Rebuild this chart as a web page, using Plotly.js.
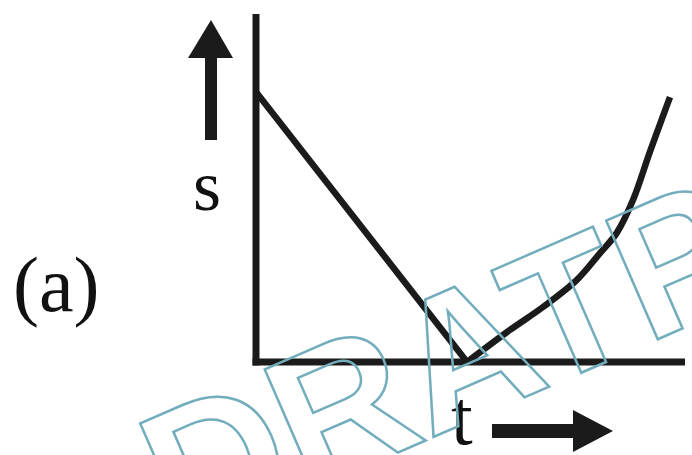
<!DOCTYPE html>
<html>
<head>
<meta charset="utf-8">
<script src="https://cdn.plot.ly/plotly-3.0.1.min.js"></script>
<style>
  html, body { margin: 0; padding: 0; background: #ffffff; }
  #chart { width: 692px; height: 455px; }
</style>
</head>
<body>
<div id="chart"></div>
<script>
// Displacement-time sketch: uniform approach to the origin, then accelerating away.
const tLine = [0, 4.92];
const sLine = [7.76, 0];

const tCurve = [4.92, 5.92, 6.69, 7.48, 8.02, 8.41, 8.79, 9.18, 9.65];
const sCurve = [0, 0.92, 1.58, 2.36, 3.13, 3.71, 4.66, 6.03, 7.61];

const panelLabel = '(a)';
const yLabel = 's';
const xLabel = 't';
const stampText = 'DRATP';

const W = 692, H = 455;
const M = { l: 256, r: 7, t: 14, b: 93 };
const plotW = W - M.l - M.r, plotH = H - M.t - M.b;

// pixel -> paper coordinate helpers for decorations
const px = x => (x - M.l) / plotW;
const py = y => (H - M.b - y) / plotH;

const ink = '#1b1b1b';
const stampColor = '#72adbd';

function poly(points) {
  return 'M' + points.map(p => px(p[0]).toFixed(5) + ',' + py(p[1]).toFixed(5)).join(' L') + ' Z';
}

const shapes = [
  // s axis
  { type: 'line', xref: 'paper', yref: 'paper', x0: px(256), x1: px(256), y0: py(14), y1: py(365.5),
    line: { color: ink, width: 7 } },
  // t axis
  { type: 'line', xref: 'paper', yref: 'paper', x0: px(252.5), x1: px(685), y0: py(362), y1: py(362),
    line: { color: ink, width: 7 } },
  // upward arrow beside the s axis
  { type: 'path', xref: 'paper', yref: 'paper', fillcolor: ink, line: { width: 0 },
    path: poly([[205, 140], [217, 140], [217, 58], [233, 58], [211, 20], [188, 58], [205, 58]]) },
  // rightward arrow beside t
  { type: 'path', xref: 'paper', yref: 'paper', fillcolor: ink, line: { width: 0 },
    path: poly([[492, 424], [573, 424], [573, 410], [613, 431], [573, 452], [573, 438], [492, 438]]) }
];

const serif = { family: 'Liberation Serif, Times New Roman, serif', color: '#111111' };

const annotations = [
  { xref: 'paper', yref: 'paper', x: px(56), y: py(284), text: panelLabel, showarrow: false,
    xanchor: 'center', yanchor: 'middle', font: Object.assign({ size: 78 }, serif) },
  { xref: 'paper', yref: 'paper', x: px(207), y: py(186), text: yLabel, showarrow: false,
    xanchor: 'center', yanchor: 'middle', font: Object.assign({ size: 72 }, serif) },
  { xref: 'paper', yref: 'paper', x: px(462), y: py(417), text: xLabel, showarrow: false,
    xanchor: 'center', yanchor: 'middle', font: Object.assign({ size: 78 }, serif) },
  { xref: 'paper', yref: 'paper', x: px(445), y: py(361), text: stampText, showarrow: false,
    xanchor: 'center', yanchor: 'middle', textangle: -23.5,
    font: { family: 'Liberation Sans, Arial, sans-serif', size: 188, weight: 700, color: stampColor } }
];

const traces = [
  { x: tLine, y: sLine, type: 'scatter', mode: 'lines', cliponaxis: false,
    line: { color: ink, width: 6.5 }, hoverinfo: 'skip' },
  { x: tCurve, y: sCurve, type: 'scatter', mode: 'lines', cliponaxis: false,
    line: { color: ink, width: 6.5, shape: 'spline', smoothing: 1 }, hoverinfo: 'skip' }
];

const hiddenAxis = { range: [0, 10], showgrid: false, zeroline: false, showline: false,
  showticklabels: false, ticks: '', fixedrange: true };

const layout = {
  width: W, height: H,
  margin: M,
  paper_bgcolor: '#ffffff', plot_bgcolor: 'rgba(0,0,0,0)',
  showlegend: false,
  xaxis: Object.assign({}, hiddenAxis),
  yaxis: Object.assign({}, hiddenAxis),
  shapes: shapes,
  annotations: annotations
};

Plotly.newPlot('chart', traces, layout, { displayModeBar: false, staticPlot: true }).then(gd => {
  // the stamp is drawn as an outline only
  const stamp = gd.querySelector('.annotation[data-index="3"] text');
  if (stamp) {
    stamp.style.fill = 'none';
    stamp.style.stroke = stampColor;
    stamp.style.strokeWidth = '2.5px';
    stamp.style.strokeLinejoin = 'miter';
  }
});
</script>
</body>
</html>
